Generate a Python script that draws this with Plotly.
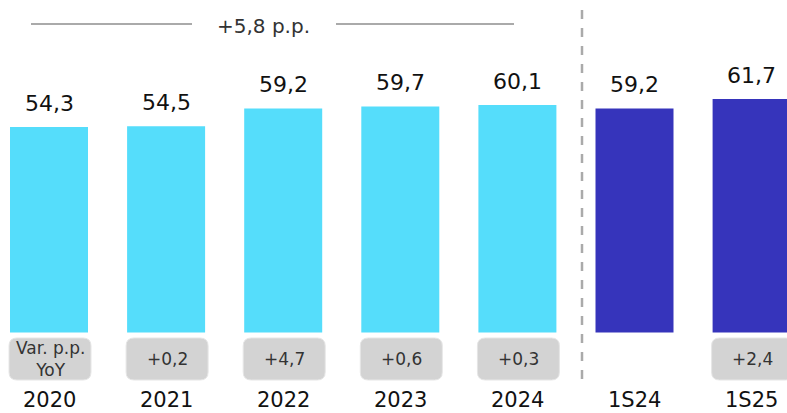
import plotly.graph_objects as go

categories = ["2020", "2021", "2022", "2023", "2024", "1S24", "1S25"]
values = [54.3, 54.5, 59.2, 59.7, 60.1, 59.2, 61.7]
yoy_labels = ["Var. p.p.<br>YoY", "+0,2", "+4,7", "+0,6", "+0,3", "", "+2,4"]
total_label = "+5,8 p.p."

CYAN = "#55DDFB"
BLUE = "#3634BB"
bar_colors = [CYAN] * 5 + [BLUE] * 2

FONT = "DejaVu Sans"
W, H = 787, 413
X0, DX = 49, 117.1          # px centre of first bar, px per category
Y0, DY = 332.5, 3.784       # px of zero line, px per unit


def px_x(px):
    return (px - X0) / DX


def px_y(py):
    return (Y0 - py) / DY


def fmt(v):
    return f"{v:.1f}".replace(".", ",")


def rounded_rect(x0, x1, y0, y1, rx, ry):
    return (
        f"M{x0 + rx},{y0} L{x1 - rx},{y0} Q{x1},{y0} {x1},{y0 + ry} "
        f"L{x1},{y1 - ry} Q{x1},{y1} {x1 - rx},{y1} "
        f"L{x0 + rx},{y1} Q{x0},{y1} {x0},{y1 - ry} "
        f"L{x0},{y0 + ry} Q{x0},{y0} {x0 + rx},{y0} Z"
    )


xs = list(range(len(categories)))

fig = go.Figure(
    go.Bar(
        x=xs,
        y=values,
        width=78 / DX,
        marker=dict(color=bar_colors, line=dict(width=0)),
        hoverinfo="skip",
    )
)

annotations = []
shapes = []

for i, (cat, v, lab) in enumerate(zip(categories, values, yoy_labels)):
    annotations.append(dict(
        x=i, y=v, text=fmt(v), showarrow=False, yanchor="middle", yshift=24,
        font=dict(family=FONT, size=22, color="#111111"),
    ))
    annotations.append(dict(
        x=i, y=px_y(400), text=cat, showarrow=False, yanchor="middle",
        font=dict(family=FONT, size=21, color="#111111"),
    ))
    if lab:
        cx = i + 1 / DX
        hw = 41 / DX
        shapes.append(dict(
            type="path", xref="x", yref="y",
            path=rounded_rect(cx - hw, cx + hw, px_y(380), px_y(338), 8 / DX, 8 / DY),
            fillcolor="#D3D3D3", line=dict(color="#E6E6E6", width=1), layer="below",
        ))
        annotations.append(dict(
            x=cx, y=px_y(359), text=lab, showarrow=False, yanchor="middle",
            font=dict(family=FONT, size=17, color="#333333"),
        ))

# top bracket with total change
for a, b in [(31, 192), (336, 514)]:
    shapes.append(dict(
        type="line", xref="x", yref="y",
        x0=px_x(a), x1=px_x(b), y0=px_y(24), y1=px_y(24),
        line=dict(color="#AAAAAA", width=2),
    ))
annotations.append(dict(
    x=px_x(263.5), y=px_y(26), text=total_label,
    showarrow=False, xanchor="center", yanchor="middle",
    font=dict(family=FONT, size=20, color="#333333"),
))

# separator between annual and half-year data
shapes.append(dict(
    type="line", xref="x", yref="y",
    x0=px_x(582), x1=px_x(582), y0=px_y(10), y1=px_y(383),
    line=dict(color="#AAAAAA", width=2.5, dash="dash"),
))

fig.update_layout(
    width=W,
    height=H,
    margin=dict(l=0, r=0, t=0, b=0),
    plot_bgcolor="white",
    paper_bgcolor="white",
    showlegend=False,
    xaxis=dict(range=[px_x(0), px_x(W)], visible=False, fixedrange=True),
    yaxis=dict(range=[px_y(H), px_y(0)], visible=False, fixedrange=True),
    shapes=shapes,
    annotations=annotations,
)

# drop the default page margin so the figure sits at the window's top-left
fig.write_html(
    "out.html",
    config={"displayModeBar": False},
    post_script="document.body.style.margin = '0';",
)
